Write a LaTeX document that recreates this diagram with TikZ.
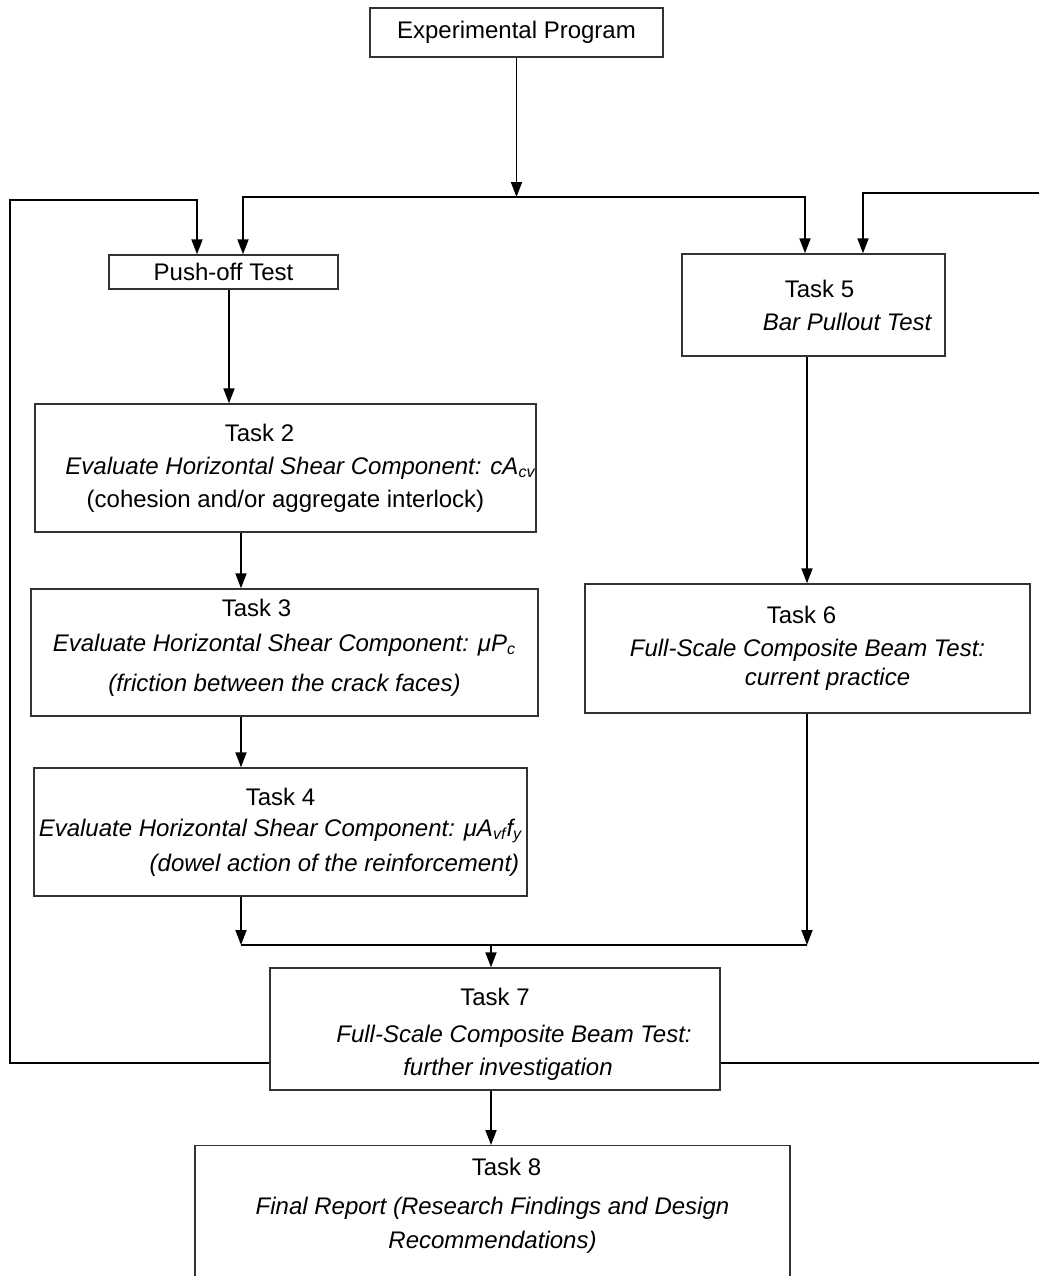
\documentclass[tikz,border=0pt]{standalone}
\usepackage{fontspec}
\setmainfont{Liberation Sans}
\usetikzlibrary{arrows.meta}
\newcommand{\sh}[1]{\hspace*{#1pt}}

\begin{document}
\begin{tikzpicture}[x=0.5pt, y=-0.5pt,
  main/.style = {draw=black!80, line width=0.7pt, rectangle, inner sep=0pt, align=center, font=\fontsize{12}{16.5}\selectfont},
  arr/.style = {-{Triangle[length=7.5pt, width=5.5pt]}, line width=0.9pt}]
      \useasboundingbox (0,0) rectangle (1039,1276);
      \clip (0,0) rectangle (1039,1276);

      \node[main, minimum width=146.5pt, minimum height=24.5pt] (exp) at (516.5,32.5) {Experimental Program};
      \node[main, minimum width=114.5pt, minimum height=17pt] (push) at (223.5,272) {Push-off Test};
      \node[main, minimum width=131.5pt, minimum height=51pt] (task5) at (813.5,305)
        {\sh{6}Task 5\\ \sh{34}\textit{Bar Pullout Test}};

      \node[main, minimum width=250.5pt, minimum height=64pt] (task2) at (285.5,468)
        {Task 2\sh{26}\\ \sh{15}\textit{Evaluate Horizontal Shear Component: cA\textsubscript{cv}}\\ (cohesion and/or aggregate interlock)};
      \node[main, minimum width=253.5pt, minimum height=63.5pt] (task3) at (284.5,652.5)
        {Task 3\sh{28}\\[1pt] \textit{Evaluate Horizontal Shear Component: μP\textsubscript{c}}\\[3.5pt] \textit{(friction between the crack faces)}\rule[-7.5pt]{0pt}{0pt}};
      \node[main, minimum width=246.5pt, minimum height=64pt] (task4) at (280.5,832)
        {Task 4\\[-1pt] \textit{Evaluate Horizontal Shear Component: μA\textsubscript{vf}f\textsubscript{y}}\\[1pt] \sh{54}\textit{(dowel action of the reinforcement)}};
      \node[main, minimum width=222.5pt, minimum height=64.5pt] (task6) at (807.5,648.5)
        {Task 6\sh{6}\\ \textit{Full-Scale Composite Beam Test:}\\[-2pt] \sh{20}\textit{current practice}};

      \node[main, minimum width=225pt, minimum height=61pt] (task7) at (495,1029)
        {\rule{0pt}{13.7pt}Task 7\\[2pt] \sh{19}\textit{Full-Scale Composite Beam Test:}\\ \sh{13}\textit{further investigation}};
      \node[main, minimum width=297.5pt, inner ysep=6pt, anchor=north] (task8) at (492.5,1145)
        {\sh{14}Task 8\\[3pt] \textit{Final Report (Research Findings and Design}\\[0.5pt] \textit{Recommendations)}\rule[-40pt]{0pt}{0pt}};

      % bus points and arrow columns
      \coordinate (tl) at (243,197);
      \coordinate (tr) at (805,197);
      \coordinate (c0) at (229,0);
      \coordinate (colL) at (241,0);
      \coordinate (colR) at (807,0);
      \coordinate (bus) at (491,945);
      \coordinate (fbl) at (10,1063);
      \coordinate (fblt) at (197,200);
      \coordinate (fbr) at (1041,1063);
      \coordinate (fbrt) at (863,193);

      \draw[arr] (exp.south) -- (exp.south |- tl);
      \draw[arr] (exp.south |- tl) -- (tl) -- (tl |- push.north);
      \draw[arr] (exp.south |- tl) -- (tr) -- (tr |- task5.north);

      \path
      (push.south -| c0) edge[arr] (task2.north -| c0)
      (task2.south -| colL) edge[arr] (task3.north -| colL)
      (task3.south -| colL) edge[arr] (task4.north -| colL)
      (task5.south -| colR) edge[arr] (task6.north -| colR)
      (task4.south -| colL) edge[arr] (colL |- bus)
      (task6.south -| colR) edge[arr] (colR |- bus)
      (bus) edge[arr] (task7.north -| bus)
      (task7.south -| bus) edge[arr] (task8.north -| bus)
      ;
      \draw[line width=0.9pt] (colL |- bus) -- (colR |- bus);

      % feedback loops
      \draw[arr] (task7.west |- fbl) -- (fbl) |- (fblt) -- (fblt |- push.north);
      \draw[arr] (task7.east |- fbr) -- (fbr) |- (fbrt) -- (fbrt |- task5.north);
    \end{tikzpicture}
\end{document}
